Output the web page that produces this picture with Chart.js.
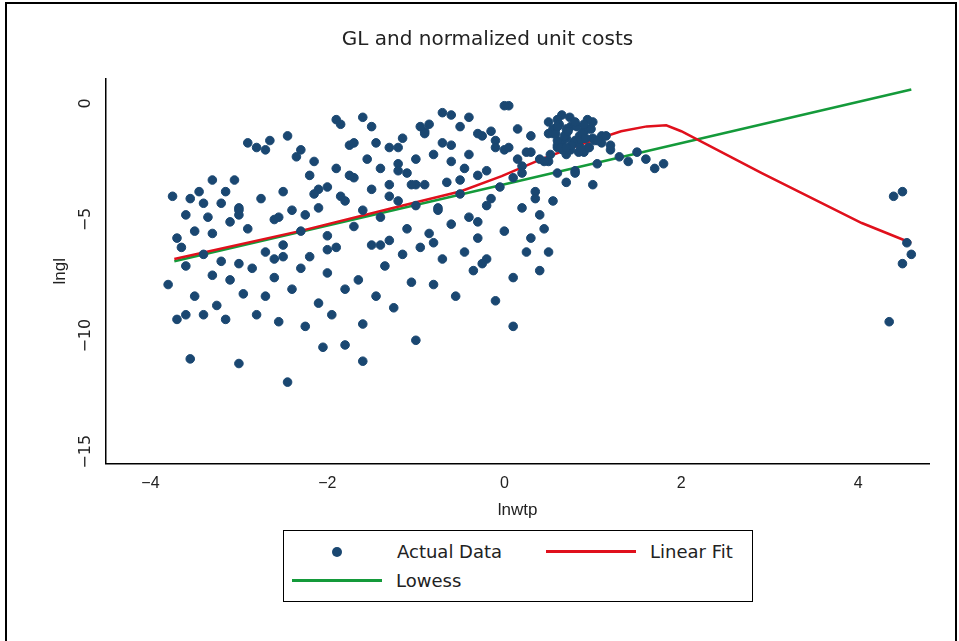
<!DOCTYPE html>
<html><head><meta charset="utf-8">
<script src="https://cdn.jsdelivr.net/npm/chart.js@4"></script>
<style>
body{margin:0;background:#fff;font-family:"DejaVu Sans",sans-serif;}
#frame{position:absolute;left:5px;top:2px;width:948px;height:650px;border:2px solid #000;border-bottom:none;}
#wrap{position:absolute;left:0;top:0;width:959px;height:525px;}
#legend{position:absolute;left:283px;top:530px;width:468px;height:70px;border:1px solid #000;font-size:18px;color:#222;}
.it{position:absolute;display:flex;align-items:center;}
</style></head><body>
<div id="frame"></div>
<div id="wrap"><canvas id="c" width="959" height="525"></canvas></div>
<div id="legend">
 <div class="it" style="left:48px;top:10px"><span style="display:inline-block;width:10px;height:10px;border-radius:50%;background:#1a4771;margin-right:55px"></span>Actual Data</div>
 <div class="it" style="left:262px;top:10px"><span style="display:inline-block;width:90px;height:3px;background:#e0101c;margin-right:14px"></span>Linear Fit</div>
 <div class="it" style="left:8px;top:39px"><span style="display:inline-block;width:90px;height:3px;background:#149a3a;margin-right:14px"></span>Lowess</div>
</div>
<script>
const scatterX=[-3.8,-3.75,-3.7,-3.7,-3.65,-3.6,-3.6,-3.55,-3.5,-3.5,-3.45,-3.4,-3.4,-3.35,-3.3,-3.3,-3.25,-3.2,-3.2,-3.15,-3.1,-3.1,-3.05,-3.0,-3.0,-3.0,-2.95,-2.9,-2.85,-2.8,-2.75,-2.7,-2.7,-2.65,-2.6,-2.6,-2.55,-2.5,-2.5,-2.45,-2.4,-2.4,-2.35,-2.3,-2.3,-2.25,-2.2,-2.2,-2.15,-2.1,-2.1,-2.05,-2.0,-2.0,-2.0,-1.95,-1.9,-1.9,-1.85,-1.8,-1.8,-1.75,-1.7,-1.7,-1.65,-1.6,-1.6,-1.6,-1.55,-1.5,-1.5,-1.45,-1.4,-1.4,-1.35,-1.3,-1.3,-1.25,-1.2,-1.2,-1.15,-1.1,-1.1,-1.05,-1.0,-1.0,-1.0,-0.95,-0.9,-0.9,-0.85,-0.8,-0.8,-0.75,-0.7,-0.7,-0.65,-0.6,-0.6,-0.55,-0.5,-0.5,-0.45,-0.4,-0.4,-0.35,-0.3,-0.3,-0.25,-0.2,-0.2,-0.15,-0.1,-0.1,-0.05,0.0,0.0,0.05,0.1,0.1,0.15,0.2,0.2,0.25,0.3,0.3,0.35,0.4,0.4,0.45,0.5,0.5,0.5,0.55,0.6,0.6,0.6,0.65,0.7,0.7,0.7,0.75,0.8,0.8,0.8,0.85,0.9,0.9,0.95,1.0,1.0,1.05,1.1,1.2,1.3,1.4,1.5,1.6,1.7,1.8,0.8,0.6,0.7,0.9,1.0,0.4,0.3,-1.9,-1.8,-1.5,-1.3,-1.2,-0.9,-0.8,-0.7,-0.5,-0.3,-0.2,-2.0,-2.3,-2.6,-2.8,-3.0,-3.3,-1.6,-1.0,-0.6,0.1,0.0,-0.4,-1.7,-2.1,-3.6,-3.55,-3.0,-2.5,4.35,4.4,4.5,4.55,4.6,4.5,0.55,0.65,0.75,0.85,0.95,0.7,0.8,0.6,0.9,1.1,1.2,-2.7,-1.45,-0.75,-0.25,0.2,0.35,-1.15,-2.25,-3.15,
0.5,0.55,0.6,0.62,0.68,0.72,0.78,0.82,0.88,0.92,0.98,1.02,0.58,0.66,0.74,0.84,0.94,0.52,0.64,0.76,0.86,0.96,0.7,0.8,0.9,0.6,0.45,1.05,1.15,-0.1,0.05,0.15,-0.3,-0.45,-1.2,-1.3,-1.85,-0.95,-0.85,-2.45,-2.9,-3.4,-1.4,-0.6,-0.15,0.25,-1.05,-1.75,-2.15,-2.55];
const scatterY=[-7.8,-4.0,-5.8,-9.3,-6.2,-4.8,-7.0,-11.0,-5.5,-8.3,-3.8,-6.5,-9.1,-4.9,-7.4,-5.6,-8.7,-4.3,-6.8,-9.3,-5.1,-7.6,-3.3,-4.5,-6.9,-11.2,-8.2,-5.4,-7.1,-9.1,-4.1,-6.4,-8.3,-1.6,-5.0,-7.5,-9.4,-3.8,-6.1,-12.0,-4.6,-8.0,-2.3,-5.5,-7.1,-9.6,-3.1,-6.6,-2.5,-4.5,-8.6,-10.5,-3.6,-5.7,-7.3,-9.1,-2.8,-6.2,-4.0,-8.0,-10.4,-1.8,-3.2,-5.3,-7.6,-0.6,-4.6,-9.5,-2.4,-3.7,-6.1,-8.3,-2.8,-4.9,-7.0,-3.5,-5.9,-8.8,-2.6,-4.2,-6.5,-3.0,-5.4,-7.7,-2.4,-4.4,-10.2,-6.2,-1.2,-3.5,-5.6,-2.2,-7.8,-4.6,-1.7,-6.7,-3.4,-2.5,-5.2,-8.3,-1.0,-3.9,-6.4,-2.2,-4.9,-7.2,-3.1,-5.8,-1.4,-2.9,-6.7,-4.1,-1.6,-8.5,-3.6,-2.0,-5.5,-0.1,-3.2,-9.6,-1.1,-4.5,-2.7,-6.4,-2.1,-1.4,-3.8,-7.2,-2.4,-5.4,-0.8,-1.3,-2.5,-4.2,-1.0,-1.8,-3.0,-0.5,-1.3,-2.2,-3.4,-1.0,-1.6,-2.9,-0.9,-1.4,-2.1,-1.2,-1.9,-3.5,-1.5,-2.6,-1.7,-2.0,-2.3,-2.5,-2.1,-2.4,-2.8,-2.6,-3.0,-0.7,-1.1,-1.5,-0.8,-4.8,-5.8,-0.7,-4.2,-1.0,-4.0,-2.9,-1.3,-6.0,-0.4,-3.3,-5.1,-4.4,-6.3,-2.0,-6.7,-1.9,-4.8,-3.3,-11.1,-3.5,-0.5,-7.5,-0.1,-0.6,-1.7,-3.7,-9.1,-4.1,-4.6,-6.6,-9.4,-4.0,-3.8,-6.0,-6.5,-6.9,-1.3,-1.7,-2.0,-1.6,-1.1,-1.5,-0.9,-1.9,-1.2,-1.4,-1.8,-2.0,-1.7,-4.5,-6.9,-3.0,-4.1,-1.5,-4.8,-3.8,-6.4,
-1.1,-1.6,-0.9,-1.4,-1.2,-1.7,-1.0,-1.3,-1.5,-1.1,-1.6,-1.3,-2.0,-0.6,-2.1,-0.7,-2.2,-1.9,-1.8,-1.9,-1.9,-1.9,-0.8,-0.9,-1.0,-2.5,-1.6,-1.4,-1.9,-1.9,-2.4,-1.3,-2.8,-1.9,-1.9,-0.9,-1.0,-0.9,-1.4,-1.7,-4.3,-6.1,-1.8,-1.2,-2.1,-3.5,-3.1,-3.9,-4.9,-7.1];
const fitX=[-3.73,-2.3,-1.17,-0.49,-0.03,0.42,0.87,1.32,1.61,1.83,2.0,2.91,4.04,4.6];
const fitY=[-6.7,-5.49,-4.42,-3.78,-3.13,-2.4,-1.76,-1.2,-0.99,-0.94,-1.2,-3.0,-5.15,-6.01];
const lowX=[-3.73,4.6];
const lowY=[-6.8,0.6];
const xTicks=[-4,-2,0,2,4];
const yTicks=[0,-5,-10,-15];
const pts=(xs,ys)=>xs.map((x,i)=>({x,y:ys[i]}));
const rotY={id:'rotY',afterDraw(ch){const s=ch.scales.y,c=ch.ctx;c.save();c.fillStyle='#222';c.font='16px "DejaVu Sans"';c.textAlign='center';c.textBaseline='bottom';
 yTicks.forEach(v=>{const p=s.getPixelForValue(v);c.save();c.translate(s.right-12,p);c.rotate(-Math.PI/2);c.fillText(String(v).replace('-','\u2212'),0,0);c.restore();});c.restore();}};
new Chart(document.getElementById('c'),{
 type:'scatter',
 data:{datasets:[
  {data:pts(scatterX,scatterY),backgroundColor:'#1a4771',borderColor:'#1a4771',pointRadius:4.3},
  {type:'line',data:pts(fitX,fitY),borderColor:'#e0101c',borderWidth:2.5,pointRadius:0,tension:0},
  {type:'line',data:pts(lowX,lowY),borderColor:'#149a3a',borderWidth:2.5,pointRadius:0}
 ]},
 options:{responsive:false,animation:false,
  layout:{padding:{left:46,right:30,top:13}},
  plugins:{legend:{display:false},title:{display:true,text:'GL and normalized unit costs',color:'#222',font:{size:20,weight:'normal',family:'DejaVu Sans'},padding:{top:15,bottom:27}}},
  scales:{
   x:{type:'linear',min:-4.5,max:4.8,grid:{display:false},border:{color:'#000',width:1.5},
      afterBuildTicks:a=>{a.ticks=xTicks.map(v=>({value:v}))},
      ticks:{color:'#222',font:{size:16},callback:v=>String(v).replace('-','\u2212')},
      title:{display:true,text:'lnwtp',color:'#222',font:{size:17}}},
   y:{type:'linear',min:-15.5,max:1.05,grid:{display:false},border:{color:'#000',width:1.5},
      afterBuildTicks:a=>{a.ticks=yTicks.map(v=>({value:v}))},
      ticks:{color:'rgba(0,0,0,0)',font:{size:16},callback:()=>'00'},
      title:{display:true,text:'lngl',color:'#222',font:{size:17}}}
  }},
 plugins:[rotY]
});
</script></body></html>
